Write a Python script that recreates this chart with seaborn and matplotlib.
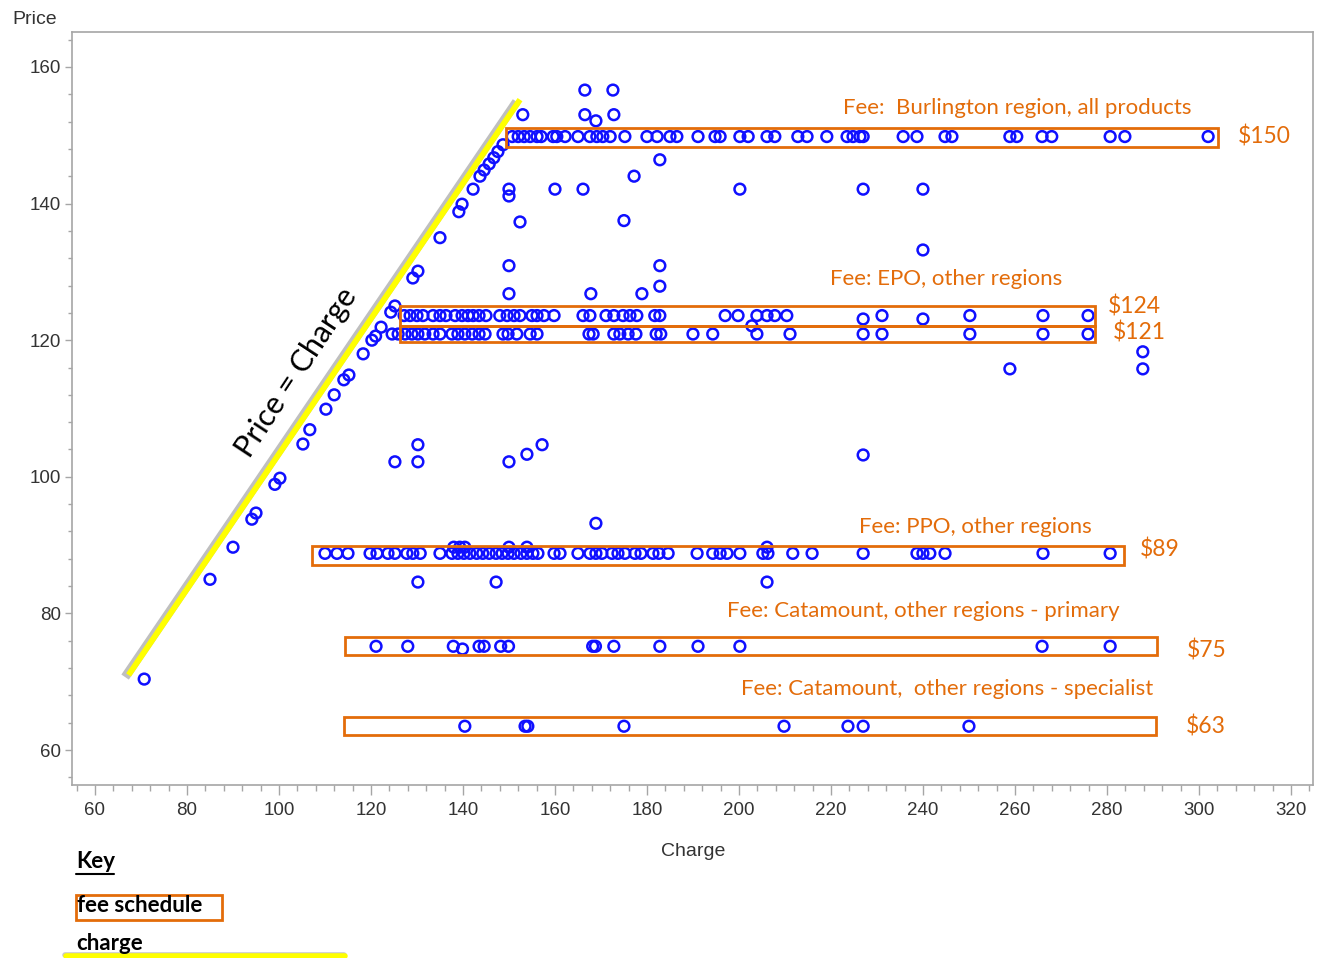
import numpy as np
import pandas as pd
import matplotlib
matplotlib.use("Agg")
import matplotlib.pyplot as plt
import matplotlib.patheffects as pe
from matplotlib.patches import Rectangle
from matplotlib.ticker import MultipleLocator
import seaborn as sns

# ---------------- data ----------------
# points lying on the Price = Charge diagonal
diag_charge = [70.7, 85.0, 90.0, 94.1, 95.0, 99.1, 100.2, 105.2, 106.7, 110.2, 112.0,
               114.1, 115.2, 118.3, 120.2, 121.0, 122.2, 124.3, 125.2, 129.1, 130.2,
               135.0, 139.1, 139.8, 142.2, 143.7, 144.6, 145.7, 146.7, 147.6, 148.7]
diag_price = [70.4, 85.0, 89.7, 93.8, 94.7, 98.9, 99.8, 104.8, 106.9, 109.9, 112.0,
              114.2, 114.9, 118.0, 120.0, 120.6, 121.9, 124.1, 125.0, 129.1, 130.1,
              135.0, 138.8, 139.9, 142.1, 144.0, 144.9, 145.8, 146.7, 147.6, 148.6]

# Burlington fee ($150)
row150_charge = [150.7, 152.0, 153.3, 154.6, 156.1, 157.0, 159.6, 160.4, 162.2, 165.0,
                 167.6, 169.1, 170.4, 172.0, 175.2, 180.0, 182.2, 185.0, 186.5, 191.1,
                 194.8, 195.9, 200.2, 202.0, 206.1, 207.8, 212.8, 214.8, 219.1, 223.5,
                 224.8, 226.3, 227.0, 235.7, 238.7, 244.8, 246.3, 258.9, 260.4, 265.9,
                 268.0, 280.7, 283.9, 302.0]
row150_price = 149.8

# EPO fee ($124)
row124_charge = [127.2, 128.5, 130.0, 131.3, 133.5, 135.0, 136.3, 138.3, 139.8, 141.1,
                 142.2, 143.5, 145.0, 148.0, 149.6, 151.1, 152.4, 155.0, 156.1, 157.6,
                 159.8, 166.1, 167.6, 171.1, 172.8, 174.8, 176.3, 177.8, 181.7, 182.8,
                 197.0, 199.8, 203.9, 206.1, 207.8, 210.4, 231.1, 250.2, 266.1, 275.9]
row124_price = 123.6

# EPO fee ($121)
row121_charge = [124.6, 125.9, 127.4, 128.9, 130.2, 131.7, 133.5, 135.0, 137.6, 138.9,
                 140.4, 142.0, 143.5, 144.8, 148.7, 149.8, 151.7, 154.6, 156.1, 167.4,
                 168.3, 172.8, 174.1, 175.9, 177.6, 182.0, 183.0, 190.0, 194.3, 203.9,
                 211.1, 227.0, 231.1, 250.2, 266.1, 275.9]
row121_price = 120.9

# PPO fee ($89)
row89_charge = [110.0, 112.6, 115.0, 119.8, 121.3, 123.7, 125.2, 127.8, 129.1, 130.7,
                135.0, 137.6, 138.9, 140.2, 141.5, 143.0, 144.3, 145.7, 147.2, 148.5,
                149.8, 151.1, 152.6, 153.9, 155.2, 156.3, 159.8, 161.1, 165.0, 167.6,
                168.9, 170.2, 172.4, 173.7, 175.2, 177.4, 178.7, 181.3, 182.6, 184.6,
                190.9, 194.3, 195.9, 197.4, 200.2, 205.2, 206.3, 211.7, 215.9, 227.0,
                238.7, 240.0, 241.5, 244.8, 266.1, 280.7]
row89_price = 88.8

# Catamount primary ($75)
row75_charge = [121.1, 128.0, 137.9, 139.9, 143.5, 144.6, 148.2, 149.9, 168.2, 168.8,
                172.8, 182.8, 191.1, 200.2, 265.9, 280.7]
row75_price = [75.2, 75.2, 75.2, 74.8, 75.2, 75.2, 75.2, 75.2, 75.2, 75.2,
               75.2, 75.2, 75.2, 75.2, 75.2, 75.2]

# Catamount specialist ($63)
row63_charge = [140.4, 153.5, 154.1, 175.0, 209.8, 223.7, 227.0, 250.0]
row63_price = 63.5

# scattered other points
other_charge = [166.5, 172.6, 153.0, 166.5, 172.8, 168.9, 182.8, 177.2, 150.0, 150.0,
                160.0, 166.1, 200.2, 227.0, 240.0, 175.0, 152.4, 240.0, 150.0, 182.8,
                182.8, 150.0, 167.8, 178.9, 227.0, 240.0, 202.8, 258.9, 287.8, 287.8,
                125.2, 130.2, 150.0, 130.2, 153.9, 157.2, 227.0, 138.0, 139.3, 140.4,
                150.0, 153.9, 206.1, 168.9, 130.2, 147.2, 206.1]
other_price = [156.6, 156.6, 153.0, 153.0, 153.0, 152.1, 146.4, 144.0, 142.1, 141.1,
               142.1, 142.1, 142.1, 142.1, 142.1, 137.5, 137.3, 133.2, 130.9, 130.9,
               127.9, 126.8, 126.8, 126.8, 123.1, 123.1, 122.1, 115.8, 118.3, 115.8,
               102.2, 102.2, 102.2, 104.7, 103.3, 104.7, 103.2, 89.7, 89.7, 89.7,
               89.7, 89.7, 89.7, 93.2, 84.6, 84.6, 84.6]

# fee schedule labels
fee_labels = ["$150", "$124", "$121", "$89", "$75", "$63"]
fee_titles = ["Fee:  Burlington region, all products", "Fee: EPO, other regions",
              "Fee: PPO, other regions", "Fee: Catamount, other regions - primary",
              "Fee: Catamount,  other regions - specialist"]

x_ticks = [60, 80, 100, 120, 140, 160, 180, 200, 220, 240, 260, 280, 300, 320]
y_ticks = [60, 80, 100, 120, 140, 160]

# ---------------- assemble ----------------
def rowframe(xs, ys):
    ys = ys if isinstance(ys, list) else [ys] * len(xs)
    return pd.DataFrame({"Charge": xs, "Price": ys})

df = pd.concat([rowframe(diag_charge, diag_price),
                rowframe(row150_charge, row150_price),
                rowframe(row124_charge, row124_price),
                rowframe(row121_charge, row121_price),
                rowframe(row89_charge, row89_price),
                rowframe(row75_charge, row75_price),
                rowframe(row63_charge, row63_price),
                rowframe(other_charge, other_price)], ignore_index=True)

sns.set_style("white")
plt.rcParams["font.family"] = ["Liberation Sans", "DejaVu Sans"]

W, H = 1323, 958
fig = plt.figure(figsize=(W / 100, H / 100), dpi=100)
ax = fig.add_axes([72 / W, 1 - 785 / H, (1313 - 72) / W, (785 - 32) / H])

ORANGE = "#E36C0A"
BLUE = "#1010FF"
GRAY = "#A6A6A6"
TXT = "#333333"
ANN_FONT = ["Lato", "DejaVu Sans"]

# yellow Price = Charge line with shadow
line_x = [67.3, 152.4]
line_y = [71.0, 155.2]
ax.plot(line_x, line_y, color="#FFFF00", lw=4.2, solid_capstyle="butt", zorder=2,
        path_effects=[pe.SimpleLineShadow(offset=(-2.5, -1.5), shadow_color="#808080",
                                          alpha=0.5, linewidth=6.5),
                      pe.Normal()])

sns.scatterplot(data=df, x="Charge", y="Price", ax=ax, marker="o", s=60,
                facecolor="none", edgecolor=BLUE, linewidth=1.8, zorder=3, legend=False)

# fee boxes (charge from, charge to, price from, price to)
boxes = [(149.3, 304.1, 148.3, 151.1),
         (126.3, 277.4, 122.1, 125.0),
         (126.3, 277.4, 119.7, 122.1),
         (107.2, 283.7, 87.1, 89.9),
         (114.3, 290.9, 73.9, 76.5),
         (114.1, 290.7, 62.2, 64.8)]
for (x0, x1, y0, y1) in boxes:
    ax.add_patch(Rectangle((x0, y0), x1 - x0, y1 - y0, fill=False, ec=ORANGE,
                           lw=2.0, zorder=4))

title_pos = [(260.4, 154.0), (245.1, 129.0), (251.4, 92.65), (240.1, 80.35), (245.3, 68.9)]
for t, (x, y) in zip(fee_titles, title_pos):
    ax.text(x, y, t, color=ORANGE, fontsize=16, ha="center", va="center",
            family=ANN_FONT, zorder=5)

label_pos = [(308.5, 149.75), (280.2, 124.9), (281.3, 121.05), (287.2, 89.3),
             (297.4, 74.6), (297.2, 63.4)]
for t, (x, y) in zip(fee_labels, label_pos):
    ax.text(x, y, t, color=ORANGE, fontsize=16.5, ha="left", va="center",
            family=ANN_FONT, zorder=5)

# diagonal label
p1 = ax.transData.transform((line_x[0], line_y[0]))
p2 = ax.transData.transform((line_x[1], line_y[1]))
ang = np.degrees(np.arctan2(p2[1] - p1[1], p2[0] - p1[0]))
ax.text(103.7, 115.3, "Price = Charge", rotation=ang, rotation_mode="anchor",
        ha="center", va="center", fontsize=22, family=ANN_FONT, color="black", zorder=5)

# axes styling
ax.set_xlim(55.0, 324.8)
ax.set_ylim(54.9, 165.1)
ax.set_xticks(x_ticks)
ax.set_yticks(y_ticks)
ax.xaxis.set_minor_locator(MultipleLocator(4))
ax.yaxis.set_minor_locator(MultipleLocator(4))
ax.tick_params(axis="x", which="major", direction="out", length=7, width=1,
               color=GRAY, labelsize=13.5, labelcolor=TXT, pad=5)
ax.tick_params(axis="y", which="major", direction="out", length=5, width=1,
               color=GRAY, labelsize=13.5, labelcolor=TXT, pad=3)
ax.tick_params(axis="x", which="minor", direction="out", length=4.5, width=1, color=GRAY)
ax.tick_params(axis="y", which="minor", direction="out", length=3, width=1, color=GRAY)
ax.tick_params(axis="x", bottom=True, which="both")
ax.tick_params(axis="y", left=True, which="both")
for s in ax.spines.values():
    s.set_color(GRAY)
    s.set_linewidth(1.2)
ax.set_xlabel("")
ax.set_ylabel("")
fig.text(693 / W, 1 - 852 / H, "Charge", ha="center", va="center", fontsize=14, color=TXT)
fig.text(35 / W, 1 - 19 / H, "Price", ha="center", va="center", fontsize=14, color=TXT)

# key
fig.text(76 / W, 1 - 862 / H, "Key", ha="left", va="center", fontsize=16,
         fontweight="bold", family=ANN_FONT, color="black")
fig.add_artist(plt.Line2D([76 / W, 114 / W], [1 - 874 / H, 1 - 874 / H], color="black", lw=1.5))
fig.text(77 / W, 1 - 906 / H, "fee schedule", ha="left", va="center", fontsize=16,
         fontweight="bold", family=ANN_FONT, color="black")
fig.add_artist(Rectangle((76 / W, 1 - 920 / H), (222 - 76) / W, 25 / H, fill=False,
                         ec=ORANGE, lw=2.0, transform=fig.transFigure))
fig.text(76 / W, 1 - 943 / H, "charge", ha="left", va="center", fontsize=16,
         fontweight="bold", family=ANN_FONT, color="black")
fig.add_artist(plt.Line2D([66 / W, 345 / W], [1 - 956 / H, 1 - 956 / H], color="#FFFF00",
                          lw=4, path_effects=[pe.SimpleLineShadow(offset=(-1, 1),
                                                                  shadow_color="#909090",
                                                                  alpha=0.5),
                                              pe.Normal()]))

fig.savefig("out.png", dpi=100)
